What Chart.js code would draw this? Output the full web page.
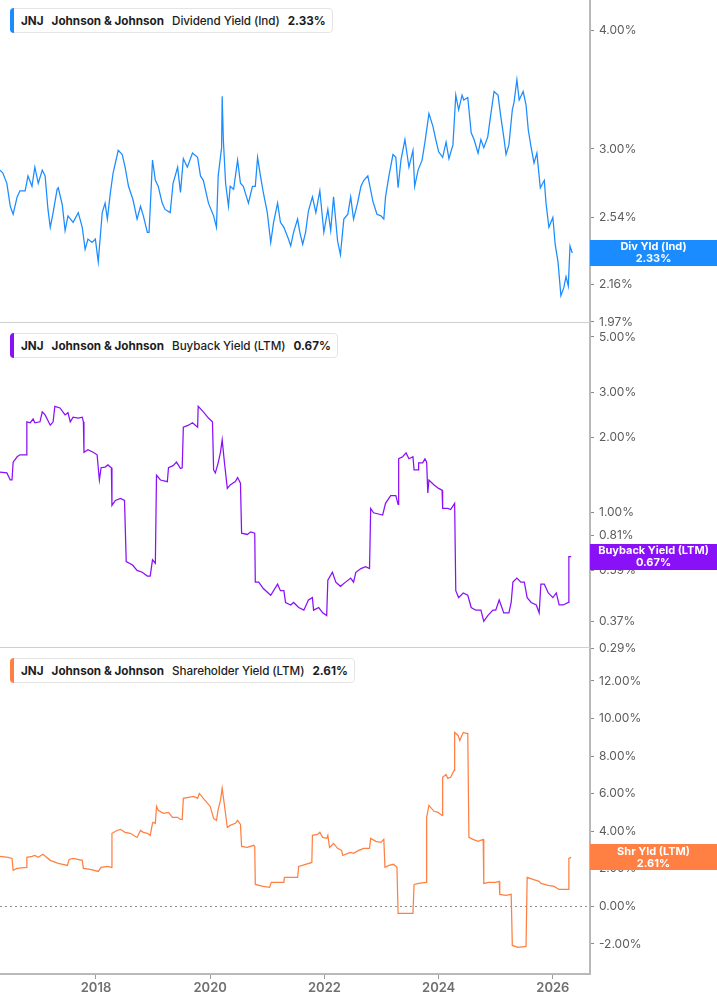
<!DOCTYPE html>
<html><head><meta charset="utf-8">
<script src="https://cdn.jsdelivr.net/npm/chart.js@4.4.1/dist/chart.umd.min.js"></script>
<style>
html,body{margin:0;padding:0;background:#fff;width:717px;height:1005px;overflow:hidden;font-family:Inter,"Noto Sans",sans-serif;}
.cv{position:absolute;left:0;width:717px;}
.legend{position:absolute;left:10px;height:25px;border:1px solid #e4e4e4;border-radius:4px;background:#fff;display:flex;align-items:center;font-size:11.7px;color:#1d1d1d;white-space:nowrap;box-sizing:border-box;padding:0 6px 0 10px;z-index:5;}
.legend .bar{position:absolute;left:-1px;top:-1px;bottom:-1px;width:4px;border-radius:4px 0 0 4px}
.legend span{margin-right:8px}
.legend span:last-child{margin-right:0}
.legend .t{font-weight:700}
.legend .m{font-weight:500;letter-spacing:-0.1px}
</style>
</head><body>
<canvas id="c1" class="cv" width="717" height="340" style="top:0px;height:340px"></canvas>
<canvas id="c2" class="cv" width="717" height="355" style="top:310px;height:355px"></canvas>
<canvas id="c3" class="cv" width="717" height="370" style="top:635px;height:370px"></canvas>
<div id="l1" class="legend" style="top:8px"></div>
<div id="l2" class="legend" style="top:333px"></div>
<div id="l3" class="legend" style="top:658px"></div>
<script>
// ---------- DATA ----------
const ticker = "JNJ";
const company = "Johnson & Johnson";

const xTickYears = [2018, 2020, 2022, 2024, 2026];
const xMin = 2016.32, xMax = 2026.65;

// Dividend Yield (Ind), %
const divDates = [2016.32,2016.37,2016.44,2016.50,2016.55,2016.62,2016.67,2016.76,2016.81,2016.88,2016.93,2016.99,2017.06,2017.11,2017.16,2017.20,2017.25,2017.32,2017.34,2017.41,2017.46,2017.51,2017.60,2017.69,2017.76,2017.81,2017.86,2017.93,2017.99,2018.04,2018.11,2018.16,2018.20,2018.25,2018.30,2018.39,2018.46,2018.51,2018.57,2018.65,2018.72,2018.78,2018.83,2018.90,2018.93,2018.99,2019.04,2019.09,2019.16,2019.21,2019.30,2019.35,2019.43,2019.48,2019.53,2019.60,2019.69,2019.78,2019.83,2019.88,2019.97,2020.06,2020.11,2020.14,2020.20,2020.21,2020.23,2020.27,2020.32,2020.35,2020.41,2020.48,2020.53,2020.58,2020.67,2020.74,2020.79,2020.83,2020.88,2020.93,2021.00,2021.06,2021.11,2021.18,2021.23,2021.29,2021.37,2021.41,2021.46,2021.53,2021.57,2021.62,2021.67,2021.72,2021.79,2021.85,2021.92,2021.99,2022.06,2022.11,2022.16,2022.23,2022.28,2022.34,2022.41,2022.46,2022.51,2022.58,2022.64,2022.69,2022.76,2022.85,2022.92,2022.99,2023.04,2023.07,2023.13,2023.20,2023.25,2023.29,2023.34,2023.41,2023.48,2023.55,2023.58,2023.64,2023.71,2023.76,2023.83,2023.90,2023.95,2024.00,2024.07,2024.13,2024.18,2024.25,2024.30,2024.35,2024.41,2024.44,2024.51,2024.57,2024.62,2024.69,2024.74,2024.79,2024.86,2024.90,2024.97,2025.04,2025.09,2025.14,2025.18,2025.23,2025.29,2025.32,2025.37,2025.41,2025.48,2025.53,2025.57,2025.62,2025.67,2025.72,2025.78,2025.85,2025.88,2025.93,2026.00,2026.04,2026.09,2026.14,2026.19,2026.23,2026.27,2026.30,2026.34];
const divValues = [2.85,2.83,2.76,2.61,2.56,2.67,2.71,2.71,2.81,2.74,2.87,2.76,2.85,2.81,2.59,2.48,2.57,2.72,2.73,2.62,2.46,2.55,2.51,2.57,2.48,2.35,2.41,2.39,2.41,2.28,2.57,2.63,2.53,2.69,2.83,2.99,2.96,2.87,2.74,2.65,2.53,2.61,2.55,2.45,2.45,2.92,2.78,2.74,2.63,2.59,2.57,2.76,2.87,2.70,2.93,2.87,2.97,2.94,2.81,2.78,2.63,2.55,2.48,2.81,3.01,3.41,3.07,2.76,2.61,2.74,2.72,2.92,2.76,2.74,2.63,2.74,2.74,2.94,2.81,2.70,2.57,2.39,2.51,2.63,2.51,2.48,2.41,2.37,2.45,2.53,2.45,2.38,2.45,2.58,2.67,2.57,2.71,2.45,2.59,2.46,2.67,2.40,2.32,2.53,2.56,2.67,2.53,2.63,2.74,2.78,2.81,2.64,2.56,2.55,2.53,2.67,2.81,2.96,2.94,2.73,2.92,3.07,2.87,2.99,2.74,2.85,2.92,3.05,3.27,3.17,3.07,2.98,2.94,3.05,2.93,3.03,3.42,3.30,3.42,3.38,3.40,3.12,3.07,2.97,3.07,3.01,3.09,3.22,3.45,3.42,3.24,3.09,2.96,3.03,3.30,3.36,3.55,3.38,3.45,3.34,3.14,3.01,2.90,2.97,2.73,2.78,2.63,2.48,2.54,2.38,2.28,2.10,2.14,2.20,2.15,2.37,2.33];

// Buyback Yield (LTM), %
const bbDates = [2016.32,2016.44,2016.50,2016.53,2016.55,2016.62,2016.67,2016.78,2016.79,2016.85,2016.90,2016.93,2017.02,2017.06,2017.11,2017.20,2017.25,2017.28,2017.37,2017.46,2017.51,2017.55,2017.60,2017.69,2017.76,2017.78,2017.79,2017.86,2017.95,2018.02,2018.06,2018.09,2018.16,2018.21,2018.27,2018.28,2018.34,2018.43,2018.50,2018.53,2018.64,2018.72,2018.81,2018.90,2018.95,2018.99,2019.04,2019.06,2019.13,2019.25,2019.27,2019.35,2019.41,2019.48,2019.51,2019.53,2019.62,2019.69,2019.78,2019.79,2019.88,2019.97,2020.04,2020.06,2020.09,2020.14,2020.18,2020.21,2020.25,2020.30,2020.35,2020.44,2020.48,2020.53,2020.55,2020.65,2020.71,2020.78,2020.79,2020.85,2020.93,2021.06,2021.18,2021.23,2021.29,2021.32,2021.41,2021.46,2021.55,2021.64,2021.72,2021.79,2021.81,2021.90,2021.97,2022.04,2022.06,2022.14,2022.20,2022.28,2022.37,2022.46,2022.51,2022.55,2022.64,2022.72,2022.79,2022.81,2022.86,2023.02,2023.07,2023.16,2023.25,2023.29,2023.30,2023.37,2023.43,2023.48,2023.55,2023.57,2023.64,2023.65,2023.72,2023.76,2023.79,2023.81,2023.83,2023.92,2024.00,2024.06,2024.07,2024.16,2024.21,2024.28,2024.30,2024.35,2024.43,2024.51,2024.57,2024.65,2024.74,2024.79,2024.86,2024.95,2025.00,2025.06,2025.14,2025.23,2025.27,2025.30,2025.37,2025.44,2025.50,2025.55,2025.62,2025.71,2025.76,2025.79,2025.85,2025.92,2026.00,2026.06,2026.11,2026.18,2026.27,2026.28,2026.32];
const bbValues = [1.45,1.44,1.35,1.35,1.59,1.67,1.70,1.70,2.30,2.28,2.36,2.28,2.30,2.52,2.45,2.23,2.30,2.65,2.61,2.45,2.50,2.30,2.40,2.38,2.40,2.30,1.74,1.78,1.74,1.70,1.35,1.51,1.52,1.55,1.51,1.07,1.12,1.14,1.12,0.64,0.62,0.59,0.58,0.56,0.56,0.65,0.63,1.41,1.35,1.33,1.51,1.54,1.59,1.50,1.51,2.19,2.23,2.28,2.19,2.65,2.52,2.38,2.30,1.48,1.44,1.58,1.74,1.95,1.58,1.25,1.29,1.33,1.38,1.31,0.83,0.82,0.84,0.83,0.53,0.53,0.50,0.47,0.52,0.49,0.49,0.44,0.43,0.44,0.42,0.41,0.45,0.46,0.41,0.42,0.40,0.39,0.54,0.58,0.53,0.51,0.53,0.55,0.53,0.58,0.60,0.61,0.60,1.04,1.00,0.98,1.09,1.17,1.17,1.08,1.64,1.67,1.73,1.64,1.67,1.48,1.48,1.58,1.58,1.64,1.59,1.20,1.35,1.29,1.25,1.23,1.04,1.04,1.03,1.09,0.49,0.46,0.48,0.47,0.42,0.41,0.41,0.37,0.39,0.41,0.41,0.45,0.40,0.40,0.44,0.53,0.55,0.53,0.53,0.46,0.44,0.43,0.40,0.52,0.52,0.48,0.46,0.48,0.43,0.43,0.44,0.67,0.67];

// Shareholder Yield (LTM), %
const shDates = [2016.32,2016.46,2016.53,2016.55,2016.62,2016.78,2016.79,2016.88,2016.93,2016.99,2017.07,2017.20,2017.34,2017.50,2017.53,2017.60,2017.76,2017.78,2017.90,2018.04,2018.09,2018.20,2018.27,2018.28,2018.37,2018.43,2018.51,2018.60,2018.72,2018.78,2018.83,2018.90,2018.95,2018.99,2019.00,2019.04,2019.06,2019.09,2019.18,2019.27,2019.34,2019.43,2019.48,2019.51,2019.53,2019.62,2019.71,2019.78,2019.81,2019.88,2020.00,2020.06,2020.11,2020.14,2020.18,2020.21,2020.25,2020.30,2020.35,2020.44,2020.48,2020.53,2020.55,2020.65,2020.76,2020.78,2020.79,2020.93,2021.04,2021.07,2021.18,2021.29,2021.30,2021.41,2021.53,2021.55,2021.67,2021.78,2021.79,2021.88,2021.92,2021.97,2022.04,2022.06,2022.09,2022.16,2022.23,2022.30,2022.32,2022.41,2022.46,2022.51,2022.60,2022.69,2022.79,2022.81,2022.90,2022.99,2023.04,2023.06,2023.13,2023.21,2023.27,2023.29,2023.39,2023.55,2023.57,2023.65,2023.78,2023.79,2023.83,2023.86,2023.92,2023.99,2024.06,2024.07,2024.13,2024.16,2024.21,2024.27,2024.28,2024.34,2024.37,2024.43,2024.48,2024.51,2024.53,2024.60,2024.69,2024.78,2024.79,2024.88,2025.00,2025.06,2025.07,2025.18,2025.27,2025.29,2025.39,2025.53,2025.55,2025.65,2025.76,2025.79,2025.92,2026.02,2026.11,2026.27,2026.28,2026.32];
const shValues = [2.66,2.61,2.55,1.92,2.02,2.08,2.61,2.66,2.71,2.61,2.77,2.45,2.29,2.18,2.50,2.55,2.45,2.02,1.97,1.86,2.08,2.13,2.08,3.89,4.04,4.10,3.94,3.89,3.67,4.04,3.94,3.89,3.78,4.42,4.47,4.42,5.32,5.11,4.95,5.00,4.74,4.74,4.63,4.63,5.75,5.80,5.85,5.75,6.01,5.75,5.32,4.68,4.58,5.16,5.64,6.28,5.38,4.20,4.31,4.42,4.58,4.36,3.19,3.14,3.25,3.19,1.17,1.06,1.01,1.28,1.28,1.28,1.54,1.54,1.54,2.13,2.24,2.34,3.78,3.83,3.94,3.67,3.62,3.78,3.14,3.35,3.09,2.98,2.71,2.82,2.87,2.82,2.98,3.09,3.09,3.62,3.46,3.41,3.57,2.08,2.18,2.24,2.08,-0.37,-0.37,-0.37,1.17,1.22,1.28,4.74,5.38,5.27,5.06,5.00,4.84,6.87,7.02,6.81,6.87,7.24,9.26,9.10,8.83,9.26,9.21,9.21,3.67,3.57,3.46,3.57,1.22,1.28,1.28,1.33,0.64,0.59,0.64,-2.08,-2.18,-2.13,1.54,1.44,1.33,1.22,1.12,1.06,0.90,0.90,2.55,2.61];

// Y-axis tick labels
const divTicks = [1.97, 2.16, 2.35, 2.54, 3.00, 4.00];
const bbTicks = [0.29, 0.37, 0.59, 0.81, 1.00, 2.00, 3.00, 5.00];
const shTicks = [-2, 0, 2, 4, 6, 8, 10, 12];

const panels = [
  {id:'c1', legend:'l1', metric:'Dividend Yield (Ind)', badge:'Div Yld (Ind)', color:'#1a8cff', dates:divDates, values:divValues, ticks:divTicks, type:'logarithmic', min:1.965, max:4.31, pad:{top:0,bottom:17}, xAxis:false, zero:false, sepLine:true},
  {id:'c2', legend:'l2', metric:'Buyback Yield (LTM)', badge:'Buyback Yield (LTM)', color:'#8a10f7', dates:bbDates, values:bbValues, ticks:bbTicks, type:'logarithmic', min:0.29, max:5.63, pad:{top:14,bottom:17}, xAxis:false, zero:false, sepLine:true},
  {id:'c3', legend:'l3', metric:'Shareholder Yield (LTM)', badge:'Shr Yld (LTM)', color:'#ff8042', dates:shDates, values:shValues, ticks:shTicks, type:'linear', min:-3.6, max:13.7, pad:{top:14,bottom:0}, xAxis:true, zero:true, sepLine:false}
];

const FONT = 'Inter, "Noto Sans", sans-serif';

const decor = {
  id:'decor',
  beforeDatasetsDraw(chart, args, o){
    if(!o.zero) return;
    const {ctx, chartArea} = chart;
    const y = Math.round(chart.scales.y.getPixelForValue(0)) + 0.5;
    ctx.save();
    ctx.strokeStyle = '#8f8f8f'; ctx.lineWidth = 1.2; ctx.setLineDash([2,3]);
    ctx.beginPath(); ctx.moveTo(chartArea.left, y); ctx.lineTo(chartArea.right, y); ctx.stroke();
    ctx.restore();
  },
  afterDraw(chart, args, o){
    const {ctx, chartArea} = chart;
    ctx.save();
    if(o.sepLine){
      const yb = Math.round(chartArea.bottom) - 0.5;
      ctx.strokeStyle = '#cfcfcf'; ctx.lineWidth = 1;
      ctx.beginPath(); ctx.moveTo(0, yb); ctx.lineTo(chartArea.right, yb); ctx.stroke();
    }
    const data = chart.data.datasets[0].data;
    const last = data[data.length-1];
    const y = chart.scales.y.getPixelForValue(last.y);
    const x0 = chartArea.right;
    ctx.fillStyle = o.color;
    ctx.fillRect(x0, Math.round(y-13), chart.width - x0, 26);
    ctx.fillStyle = '#fff';
    ctx.font = '700 11px ' + FONT;
    ctx.textAlign = 'center'; ctx.textBaseline = 'middle';
    const cx = (x0 + chart.width)/2;
    ctx.fillText(o.badge, cx, y-6);
    ctx.fillText(last.y.toFixed(2) + '%', cx, y+6);
    ctx.restore();
  }
};

panels.forEach(p => {
  const last = p.values[p.values.length-1];
  document.getElementById(p.legend).innerHTML =
    '<div class="bar" style="background:'+p.color+'"></div>' +
    '<span class="t">'+ticker+'</span><span class="t">'+company+'</span><span class="m">'+p.metric+'</span><span class="t">'+last.toFixed(2)+'%</span>';

  const pts = p.dates.map((d,i)=>({x:d, y:p.values[i]}));
  new Chart(document.getElementById(p.id), {
    type:'line',
    data:{datasets:[{data:pts, borderColor:p.color, borderWidth:1.25, pointRadius:0, tension:0, fill:false}]},
    plugins:[decor],
    options:{
      responsive:false, animation:false, devicePixelRatio:1,
      layout:{padding:{left:0,right:0,top:p.pad.top,bottom:p.pad.bottom}},
      plugins:{legend:{display:false}, tooltip:{enabled:false}, decor:{color:p.color, badge:p.badge, zero:p.zero, sepLine:p.sepLine}},
      scales:{
        x:{type:'linear', min:xMin, max:xMax, display:p.xAxis,
          afterBuildTicks:s=>{ s.ticks = xTickYears.map(v=>({value:v})); },
          afterFit:s=>{ s.height = p.xAxis ? 31 : 0; s.paddingLeft = 0; s.paddingRight = 0; },
          grid:{display:true, drawOnChartArea:false, drawTicks:true, tickLength:5, tickColor:'#9a9a9a', tickWidth:1},
          border:{display:true, color:'#b9b9b9', width:2},
          ticks:{color:'#707070', font:{family:FONT, size:13, weight:'600'}, padding:1, maxRotation:0, autoSkip:false, callback:v=>String(v)}
        },
        y:{type:p.type, position:'right', min:p.min, max:p.max,
          afterBuildTicks:s=>{ s.ticks = p.ticks.map(v=>({value:v})); },
          afterFit:s=>{ s.width = 127; s.paddingTop = 0; s.paddingBottom = 0; },
          grid:{display:true, drawOnChartArea:false, drawTicks:true, tickLength:4, tickColor:'#8a8a8a', tickWidth:1},
          border:{display:true, color:'#b9b9b9', width:2},
          ticks:{color:'#5c5c5c', font:{family:FONT, size:12}, padding:5, autoSkip:false, callback:v=>Number(v).toFixed(2)+'%'}
        }
      }
    }
  });
});
</script>
</body></html>
